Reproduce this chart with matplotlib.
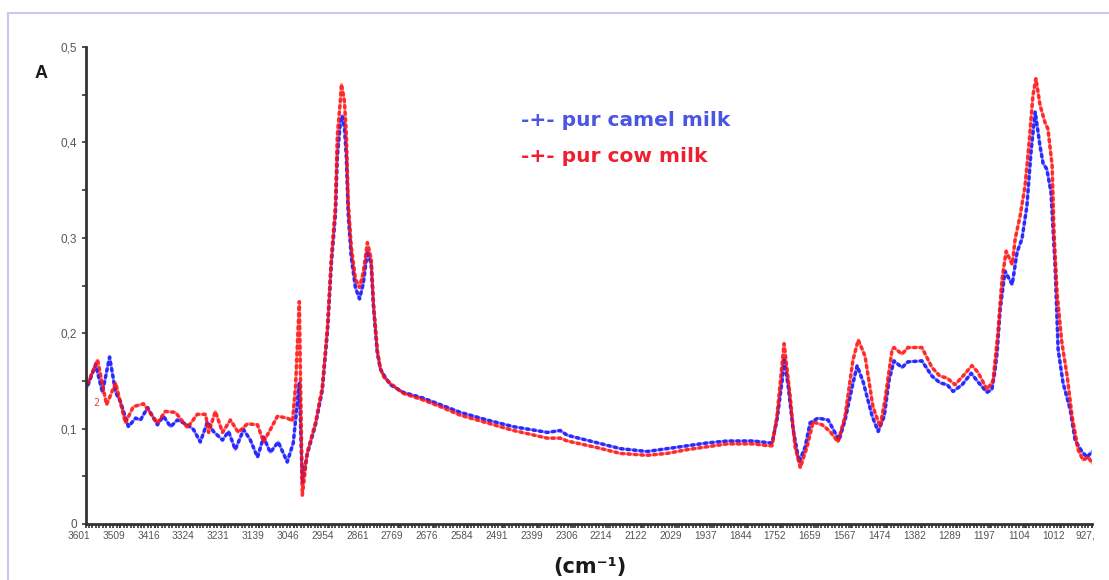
import numpy as np
import matplotlib.pyplot as plt
from matplotlib.lines import Line2D
from matplotlib.transforms import ScaledTranslation

# FTIR absorbance spectra, wavenumber in cm-1 (decreasing)
camel_wn = [3601, 3596, 3574, 3556, 3537, 3521, 3508, 3487, 3468, 3455, 3436, 3410,
            3394, 3375, 3357, 3330, 3314, 3296, 3277, 3261, 3237, 3221, 3203, 3181,
            3163, 3144, 3128, 3110, 3089, 3065, 3049, 3033, 3025, 3012, 2990, 2972,
            2958, 2948, 2937, 2932, 2924, 2919, 2913, 2908, 2903, 2895, 2884, 2873,
            2863, 2852, 2842, 2836, 2826, 2818, 2810, 2791, 2757, 2704, 2658, 2605,
            2534, 2464, 2374, 2340, 2321, 2241, 2180, 2109, 2056, 2002, 1949, 1896,
            1827, 1782, 1777, 1764, 1750, 1745, 1734, 1721, 1705, 1689, 1676, 1655,
            1628, 1610, 1599, 1583, 1564, 1551, 1535, 1511, 1495, 1479, 1466, 1453,
            1432, 1416, 1379, 1352, 1331, 1312, 1296, 1272, 1248, 1230, 1206, 1193,
            1185, 1179, 1171, 1158, 1139, 1126, 1113, 1100, 1089, 1078, 1065, 1057,
            1047, 1036, 1025, 1017, 1004, 985, 972, 954, 940, 927]
camel_abs = [0.155, 0.144, 0.167, 0.138, 0.175, 0.138, 0.128, 0.102, 0.111, 0.109, 0.122, 0.104,
             0.113, 0.102, 0.109, 0.104, 0.099, 0.086, 0.107, 0.097, 0.088, 0.097, 0.078, 0.099,
             0.088, 0.070, 0.091, 0.075, 0.086, 0.065, 0.085, 0.148, 0.043, 0.073, 0.104, 0.140,
             0.203, 0.272, 0.325, 0.385, 0.420, 0.428, 0.415, 0.385, 0.325, 0.280, 0.248, 0.236,
             0.252, 0.286, 0.272, 0.228, 0.180, 0.163, 0.157, 0.146, 0.138, 0.132, 0.125, 0.117,
             0.109, 0.102, 0.096, 0.098, 0.093, 0.085, 0.079, 0.076, 0.079, 0.082, 0.085, 0.087,
             0.087, 0.085, 0.085, 0.109, 0.151, 0.174, 0.144, 0.099, 0.065, 0.081, 0.106, 0.111,
             0.109, 0.096, 0.088, 0.109, 0.144, 0.166, 0.149, 0.113, 0.097, 0.113, 0.151, 0.171,
             0.164, 0.170, 0.171, 0.155, 0.148, 0.146, 0.139, 0.146, 0.158, 0.149, 0.138, 0.141,
             0.160, 0.180, 0.225, 0.265, 0.251, 0.285, 0.299, 0.333, 0.390, 0.432, 0.396, 0.378,
             0.372, 0.348, 0.270, 0.183, 0.148, 0.120, 0.088, 0.076, 0.070, 0.076]

cow_wn = [3601, 3569, 3545, 3521, 3495, 3474, 3447, 3410, 3389, 3362, 3330, 3304,
          3282, 3274, 3256, 3237, 3216, 3195, 3171, 3144, 3128, 3110, 3091, 3065,
          3051, 3043, 3033, 3025, 3012, 2990, 2972, 2958, 2948, 2937, 2932, 2924,
          2921, 2913, 2908, 2903, 2895, 2884, 2873, 2863, 2852, 2842, 2836, 2826,
          2818, 2810, 2796, 2757, 2704, 2658, 2605, 2534, 2464, 2374, 2340, 2321,
          2241, 2180, 2109, 2056, 2002, 1949, 1896, 1827, 1787, 1777, 1764, 1745,
          1729, 1716, 1702, 1684, 1668, 1644, 1623, 1602, 1583, 1562, 1548, 1530,
          1509, 1490, 1477, 1458, 1453, 1432, 1416, 1379, 1352, 1331, 1312, 1291,
          1270, 1246, 1230, 1206, 1190, 1177, 1166, 1155, 1139, 1131, 1118, 1105,
          1094, 1084, 1076, 1065, 1052, 1044, 1033, 1028, 1020, 1007, 993, 980,
          964, 951, 937, 927]
cow_abs = [0.142, 0.172, 0.125, 0.148, 0.106, 0.123, 0.126, 0.106, 0.118, 0.117, 0.101, 0.115,
           0.115, 0.096, 0.118, 0.096, 0.109, 0.096, 0.105, 0.104, 0.086, 0.099, 0.113, 0.111,
           0.108, 0.144, 0.233, 0.030, 0.075, 0.106, 0.143, 0.207, 0.278, 0.333, 0.407, 0.443,
           0.461, 0.443, 0.407, 0.337, 0.291, 0.257, 0.248, 0.264, 0.295, 0.278, 0.232, 0.183,
           0.164, 0.155, 0.149, 0.137, 0.130, 0.123, 0.114, 0.106, 0.098, 0.090, 0.090, 0.087,
           0.080, 0.074, 0.072, 0.074, 0.078, 0.081, 0.084, 0.084, 0.082, 0.082, 0.113, 0.189,
           0.134, 0.081, 0.059, 0.081, 0.107, 0.104, 0.097, 0.086, 0.113, 0.172, 0.193, 0.176,
           0.123, 0.102, 0.130, 0.183, 0.185, 0.178, 0.185, 0.185, 0.164, 0.155, 0.153, 0.146,
           0.155, 0.166, 0.159, 0.141, 0.150, 0.200, 0.257, 0.286, 0.272, 0.299, 0.323, 0.354,
           0.400, 0.449, 0.467, 0.439, 0.421, 0.414, 0.376, 0.306, 0.243, 0.190, 0.155, 0.113,
           0.078, 0.067, 0.070, 0.064]

xtick_vals = [3601, 3509, 3416, 3324, 3231, 3139, 3046, 2954, 2861, 2769, 2676, 2584,
              2491, 2399, 2306, 2214, 2122, 2029, 1937, 1844, 1752, 1659, 1567, 1474,
              1382, 1289, 1197, 1104, 1012, 927]
xtick_text = [str(v) for v in xtick_vals[:-1]] + ["927,"]
ytick_vals = [0, 0.1, 0.2, 0.3, 0.4, 0.5]
ytick_text = ["0", "0,1", "0,2", "0,3", "0,4", "0,5"]

W, H = 1109, 580
fig = plt.figure(figsize=(W / 100, H / 100), dpi=100)
ax = fig.add_axes([85.5 / W, 1 - 524 / H, (1092 - 85.5) / W, (524 - 47) / H])


def spectrum(wn, ab, color):
    ax.plot(wn, ab, color=color, lw=2.0, alpha=0.45, solid_joinstyle="round")
    ax.plot(wn, ab, color=color, lw=2.6, alpha=0.8,
            linestyle=(0, (0.5, 1.3)), dash_capstyle="round")


spectrum(camel_wn, camel_abs, "#1010ff")
spectrum(cow_wn, cow_abs, "#ff1010")

ax.set_xlim(3601, 927)
ax.set_ylim(0, 0.5)

for side in ["top", "right"]:
    ax.spines[side].set_visible(False)
for side in ["left", "bottom"]:
    ax.spines[side].set_color("#333333")
    ax.spines[side].set_linewidth(2)

ax.set_xticks(xtick_vals)
ax.set_xticklabels(xtick_text, fontsize=7.3, color="#555555", family="Liberation Sans")
ax.set_xticks(np.arange(3601, 920, -9.22), minor=True)
ax.tick_params(axis="x", which="both", length=3, width=1.2, color="#333333", pad=2)
shift = ScaledTranslation(-6.5 / 100, 0, fig.dpi_scale_trans)
for lab in ax.get_xticklabels():
    lab.set_transform(lab.get_transform() + shift)

ax.set_yticks(ytick_vals)
ax.set_yticklabels(ytick_text, fontsize=8.5, color="#555555", family="Liberation Sans")
ax.set_yticks([0.05, 0.15, 0.25, 0.35, 0.45], minor=True)
ax.tick_params(axis="y", which="both", length=3, width=1.2, color="#333333", pad=3)


def fx(px):
    return px / W


def fy(py):
    return 1 - py / H


# light frame around the plot area
frame = "#c8c8f2"
fig.add_artist(Line2D([fx(8), fx(8)], [0, fy(13)], transform=fig.transFigure, color=frame, lw=1.5))
fig.add_artist(Line2D([fx(8), 1], [fy(13), fy(13)], transform=fig.transFigure, color=frame, lw=1.5))

fig.text(fx(41), fy(74), "A", fontsize=13, fontweight="bold", color="#1a1a1a",
         family="Liberation Sans", ha="center", va="center")
fig.text(fx(96), fy(403), "2", fontsize=7, color="#ff4040", ha="center", va="center")

fig.text(fx(521), fy(121), "-+- pur camel milk", fontsize=14.5, fontweight="bold",
         color="#4a55e0", family="DejaVu Sans", ha="left", va="center")
fig.text(fx(521), fy(156), "-+- pur cow milk", fontsize=14.5, fontweight="bold",
         color="#ee2030", family="DejaVu Sans", ha="left", va="center")

fig.text(fx(590), fy(567), "(cm\u207b\u00b9)", fontsize=15, fontweight="bold",
         color="#1a1a1a", family="DejaVu Sans", ha="center", va="center")

fig.savefig("out.png", dpi=100)
